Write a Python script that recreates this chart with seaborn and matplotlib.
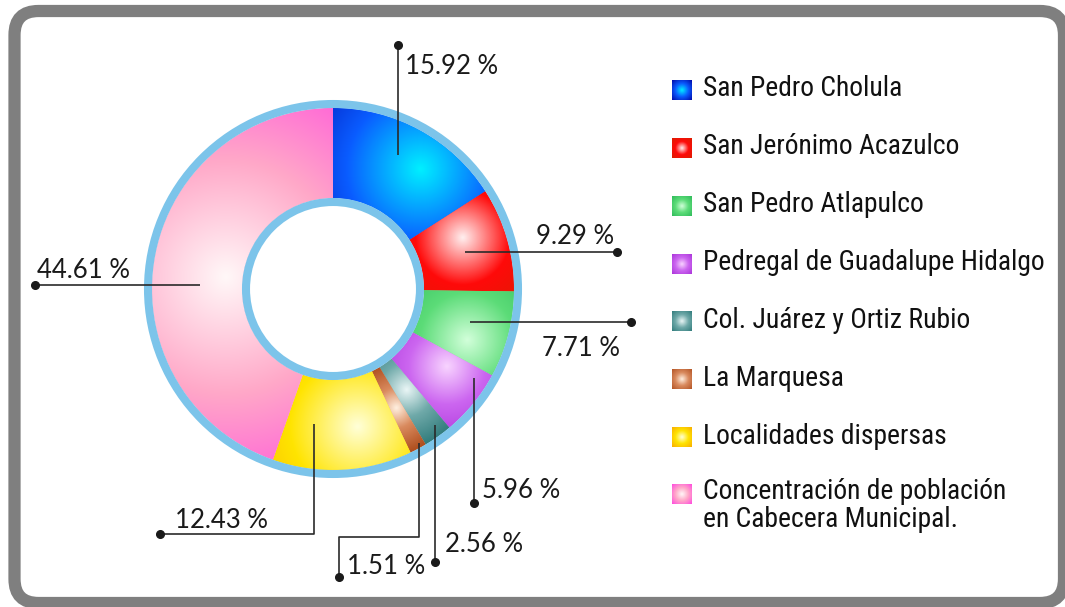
import numpy as np
import seaborn as sns
import matplotlib.pyplot as plt
from matplotlib import font_manager as fm
from matplotlib.patches import FancyBboxPatch, Circle

sns.set_theme(style="white")
plt.rcParams["font.family"] = ["Lato", "DejaVu Sans"]

# datos
localidades = ["San Pedro Cholula", "San Jerónimo Acazulco", "San Pedro Atlapulco",
               "Pedregal de Guadalupe Hidalgo", "Col. Juárez y Ortiz Rubio",
               "La Marquesa", "Localidades dispersas",
               "Concentración de población\nen Cabecera Municipal."]
porcentajes = [15.92, 9.29, 7.71, 5.96, 2.56, 1.51, 12.43, 44.61]
etiquetas = ["15.92 %", "9.29 %", "7.71 %", "5.96 %", "2.56 %", "1.51 %", "12.43 %", "44.61 %"]

base_colors = ["#0a5cff", "#ff0a0a", "#5cdc78", "#cc66f0", "#6fa9a9", "#d98a5e", "#ffe400", "#ffa8c8"]
light_colors = ["#00f0ff", "#fff0f0", "#d2ffda", "#f8d4ff", "#eaf6f6", "#fff0e0", "#ffffd8", "#fff8f8"]
dark_colors = ["#0000a0", "#d82000", "#2cb858", "#a830d8", "#2c7878", "#b05020", "#f8a800", "#ff40e0"]
grad_scale = [165, 105, 105, 85, 60, 45, 150, 260]
hl_frac = [0.37, 0.67, 0.28, 0.74, 0.59, 0.5, 0.66, 0.52]
hl_r = [149, 140, 144, 138, 125, 135, 140, 108]

# anclas de las líneas guía (fracción angular dentro de la cuña, radio)
anchor_frac = [0.55, 0.49, 0.54, 0.82, 0.66, 0.7, 0.25, 0.55]
anchor_r = [149, 137, 141, 167, 170, 176, 136, 133]


def pick_condensed():
    pref = ["Roboto", "Open Sans", "Noto Sans", "Liberation", "DejaVu", ""]
    found = []
    for f in fm.fontManager.ttflist:
        st = str(f.stretch)
        if ("Narrow" in f.name or "Condensed" in f.name or "Cond" in f.fname
                or st in ("condensed", "semi-condensed", "extra-condensed", "ultra-condensed")):
            if f.style == "normal":
                found.append(f)
    for p in pref:
        sel = [f for f in found if f.name.startswith(p)]
        if sel:
            sel.sort(key=lambda f: abs(int(f.weight) - 430) if str(f.weight).isdigit() else 100)
            return fm.FontProperties(fname=sel[0].fname)
    return fm.FontProperties(family="DejaVu Sans")


leg_font = pick_condensed()

W, H = 1065, 607
fig = plt.figure(figsize=(W / 100, H / 100), dpi=100)
ax = fig.add_axes([0, 0, 1, 1])
ax.set_xlim(0, W)
ax.set_ylim(0, H)

cx, cy = 333, H - 289
r_out, r_in = 181, 91
ring = "#7cc4ea"

wedges, _ = ax.pie(porcentajes, startangle=90, counterclock=False, radius=r_out,
                   center=(cx, cy), colors=base_colors,
                   wedgeprops=dict(width=r_out - r_in, linewidth=0))


def hex_rgb(h):
    h = h.lstrip("#")
    return np.array([int(h[i:i + 2], 16) for i in (0, 2, 4)]) / 255.0


def gradient(xx, yy, hx, hy, scale, light, base, dark):
    t = np.clip(np.hypot(xx - hx, yy - hy) / scale, 0, 1)[..., None]
    l, b, d = hex_rgb(light), hex_rgb(base), hex_rgb(dark)
    u = np.clip(t / 0.45, 0, 1)
    v = np.clip((t - 0.45) / 0.55, 0, 1)
    c = np.where(t < 0.45, l * (1 - u) + b * u, b * (1 - v) + d * v)
    return np.clip(c, 0, 1)


n = 400
yy, xx = np.mgrid[cy - r_out:cy + r_out:n * 1j, cx - r_out:cx + r_out:n * 1j]
for i, w in enumerate(wedges):
    ang = np.deg2rad(w.theta1 + hl_frac[i] * (w.theta2 - w.theta1))
    hx = cx + hl_r[i] * np.cos(ang)
    hy = cy + hl_r[i] * np.sin(ang)
    img = gradient(xx, yy, hx, hy, grad_scale[i], light_colors[i], base_colors[i], dark_colors[i])
    im = ax.imshow(img, extent=(cx - r_out, cx + r_out, cy - r_out, cy + r_out),
                   origin="lower", zorder=2, interpolation="bilinear")
    im.set_clip_path(w)

# anillos
ax.add_patch(Circle((cx, cy), r_out + 4, fill=False, ec=ring, lw=5.8, zorder=3))
ax.add_patch(Circle((cx, cy), r_in - 4, fc="white", ec=ring, lw=5.8, zorder=3))

# líneas guía: pasos en píxeles de la imagen (y hacia abajo)
rutas = [[("v", 45)], [("h", 617)], [("h", 631)], [("v", 503)],
         [("v", 562)], [("v", 537), ("h", 339), ("v", 577)],
         [("v", 534), ("h", 160)], [("h", 35)]]
pos_etiquetas = [(405, 66, "left"), (614, 237, "right"), (620, 348, "right"),
                 (482, 491, "left"), (445, 544, "left"), (347, 566, "left"),
                 (175, 521, "left"), (37, 271, "left")]

for i, w in enumerate(wedges):
    ang = np.deg2rad(w.theta1 + anchor_frac[i] * (w.theta2 - w.theta1))
    x0 = cx + anchor_r[i] * np.cos(ang)
    y0 = cy + anchor_r[i] * np.sin(ang)
    xs, ys = [x0], [y0]
    for kind, val in rutas[i]:
        if kind == "v":
            xs.append(xs[-1])
            ys.append(H - val)
        else:
            xs.append(val)
            ys.append(ys[-1])
    ax.plot(xs, ys, color="#2a2a2a", lw=1.2, zorder=4, solid_capstyle="butt")
    ax.plot(xs[-1], ys[-1], "o", color="#1a1a1a", ms=5.5, zorder=5)
    tx, ty, ha = pos_etiquetas[i]
    ax.text(tx, H - ty, etiquetas[i], ha=ha, va="center", fontsize=18.5,
            color="#1a1a1a", zorder=5)

# leyenda
leg_y = [90, 148, 206, 264, 321, 379, 437, 494]
sq = 20
leg_texts = []
for i, lab in enumerate(localidades):
    x0, yc = 672, H - leg_y[i]
    gy, gx = np.mgrid[yc - sq / 2:yc + sq / 2:40j, x0:x0 + sq:40j]
    img = gradient(gx, gy, x0 + sq / 2, yc, sq * 0.75, light_colors[i], base_colors[i], dark_colors[i])
    ax.imshow(img, extent=(x0, x0 + sq, yc - sq / 2, yc + sq / 2), origin="lower",
              zorder=3, interpolation="bilinear")
    multi = "\n" in lab
    t = ax.text(703, yc + 16 if multi else yc + 1, lab, ha="left",
                va="top" if multi else "center", color="#111111",
                linespacing=1.05, fontproperties=leg_font, fontsize=20)
    leg_texts.append(t)

# ajustar tamaño para que la entrada más larga mida como en la referencia
r = fig.canvas.get_renderer()
wmax = leg_texts[3].get_window_extent(r).width
fs = min(21.5, 20 * 342 / wmax)
for t in leg_texts:
    t.set_fontsize(fs)

# marco
ax.add_patch(FancyBboxPatch((14.5, H - 603), 1064 - 14.5, 603 - 11,
                            boxstyle="round,pad=0,rounding_size=24",
                            fc="none", ec="#7f7f7f", lw=8.8, zorder=6, clip_on=False))

ax.set_xlim(0, W)
ax.set_ylim(0, H)
ax.set_aspect("equal")
ax.axis("off")
fig.savefig("out.png", dpi=100, facecolor="white")
